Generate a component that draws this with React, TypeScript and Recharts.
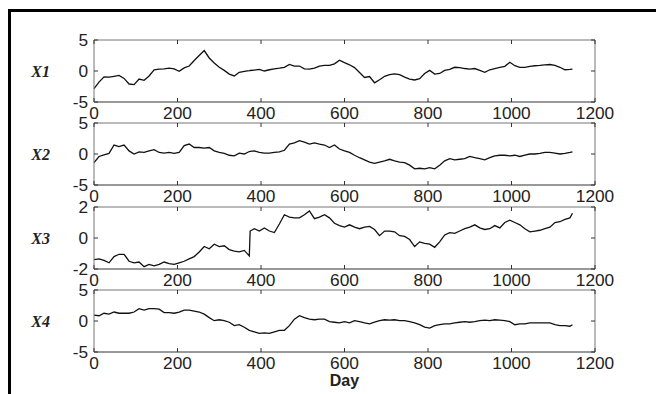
import React from 'react';
import { LineChart, Line, XAxis, YAxis, Label } from 'recharts';

const days = [
  0, 12, 24, 36, 48, 60, 72, 84, 96, 108,
  120, 132, 144, 156, 168, 180, 192, 204, 216, 228,
  240, 252, 264, 276, 288, 300, 312, 324, 336, 348,
  360, 372, 374,
  384, 396, 408, 420, 432, 444, 456, 468,
  480, 492, 504, 516, 528, 540, 552, 564, 576, 588,
  600, 612, 624, 636, 648, 660, 672, 684, 696, 708,
  720, 732, 744, 756, 768, 780, 792, 804, 816, 828,
  840, 852, 864, 876, 888, 900, 912, 924, 936, 948,
  960, 972, 984, 996, 1008, 1020, 1032, 1044, 1056, 1068,
  1080, 1092, 1104, 1116, 1128, 1140,
  1146,
];

const x1Values = [
  -2.85, -1.8, -0.95, -1.0, -0.85, -0.7, -1.2, -2.1, -2.2, -1.3,
  -1.5, -0.8, 0.2, 0.3, 0.35, 0.45, 0.35, -0.05, 0.5, 0.8,
  1.7, 2.5, 3.3, 2.1, 1.3, 0.6, 0.1, -0.5, -0.8, -0.2,
  -0.05, 0.05, 0.08,
  0.15, 0.25, 0.0, 0.2, 0.35, 0.45, 0.6, 1.05,
  0.8, 0.8, 0.35, 0.3, 0.45, 0.8, 0.9, 0.9, 1.15, 1.75,
  1.35, 1.0, 0.55, -0.25, -1.05, -0.9, -1.9, -1.4, -0.85, -0.6,
  -0.45, -0.6, -1.0, -1.3, -1.45, -1.25, -0.4, 0.1, -0.5, -0.4,
  0.1, 0.25, 0.6, 0.55, 0.4, 0.3, 0.4, 0.1, -0.2, 0.2,
  0.4, 0.6, 0.75, 1.4, 0.85, 0.6, 0.6, 0.75, 0.85, 0.9,
  1.0, 1.05, 0.9, 0.6, 0.2, 0.25,
  0.3,
];

const x2Values = [
  -1.4, -0.4, -0.15, 0.1, 1.45, 1.2, 1.45, 0.5, 0.0, 0.35,
  0.25, 0.5, 0.7, 0.25, 0.15, 0.25, 0.1, 0.25, 1.35, 1.6,
  1.05, 1.05, 0.95, 1.05, 0.5, 0.25, 0.1, -0.2, -0.3, 0.15,
  0.0, 0.4, 0.42,
  0.5, 0.25, 0.15, 0.15, 0.25, 0.35, 0.6, 1.6,
  1.8, 2.15, 1.9, 1.6, 1.8, 1.6, 1.45, 1.05, 1.45, 0.8,
  0.5, 0.25, -0.2, -0.6, -0.95, -1.3, -1.5, -1.3, -1.1, -0.85,
  -1.1, -1.3, -1.4, -1.8, -2.4, -2.3, -2.4, -2.2, -2.4, -1.8,
  -1.1, -0.75, -0.95, -0.85, -0.75, -0.4, -0.6, -0.75, -0.95, -0.6,
  -0.3, -0.2, -0.2, -0.3, -0.2, -0.4, -0.2, 0.0, 0.0, 0.1,
  0.25, 0.25, 0.15, 0.0, 0.1, 0.25,
  0.35,
];

const x3Values = [
  -1.4, -1.35, -1.45, -1.6, -1.2, -1.05, -1.05, -1.5, -1.6, -1.55,
  -1.85, -1.7, -1.8, -1.7, -1.55, -1.65, -1.7, -1.6, -1.5, -1.35,
  -1.2, -0.9, -0.55, -0.7, -0.4, -0.55, -0.5, -0.75, -0.85, -0.9,
  -0.8, -1.15, 0.45,
  0.6, 0.45, 0.65, 0.45, 0.35, 0.9, 1.5, 1.35,
  1.3, 1.3, 1.5, 1.75, 1.25, 1.35, 1.5, 1.3, 0.95, 0.8,
  0.7, 0.85, 0.7, 0.6, 0.7, 0.75, 0.55, 0.15, 0.45, 0.45,
  0.4, 0.15, 0.1, -0.1, -0.55, -0.25, -0.35, -0.4, -0.6, -0.25,
  0.2, 0.35, 0.3, 0.45, 0.6, 0.7, 0.85, 0.65, 0.55, 0.6,
  0.8, 0.65, 1.0, 1.15, 1.0, 0.85, 0.6, 0.4, 0.45, 0.5,
  0.6, 0.7, 1.0, 1.05, 1.2, 1.3,
  1.6,
];

const x4Values = [
  0.95, 0.85, 1.25, 1.1, 1.45, 1.25, 1.25, 1.25, 1.45, 2.0,
  1.75, 2.0, 2.0, 1.9, 1.35, 1.35, 1.25, 1.45, 1.75, 1.75,
  1.6, 1.45, 1.1, 0.55, 0.05, 0.2, 0.05, -0.2, -0.75, -0.6,
  -1.0, -1.5, -1.55,
  -1.75, -2.0, -1.9, -2.0, -1.75, -1.5, -1.5, -0.75,
  0.3, 0.85, 0.55, 0.3, 0.2, 0.3, 0.3, -0.1, -0.2, -0.3,
  -0.1, -0.3, 0.05, -0.1, -0.3, -0.45, -0.2, 0.05, 0.2, 0.15,
  0.2, 0.05, 0.05, -0.1, -0.3, -0.6, -1.0, -1.15, -0.75, -0.6,
  -0.45, -0.45, -0.3, -0.2, -0.1, -0.2, -0.1, 0.05, 0.15, 0.05,
  0.2, 0.15, 0.05, -0.1, -0.6, -0.45, -0.45, -0.3, -0.3, -0.3,
  -0.3, -0.3, -0.6, -0.75, -0.75, -0.85,
  -0.6,
];

const seriesNames = ['X1', 'X2', 'X3', 'X4'];
const seriesValues = [x1Values, x2Values, x3Values, x4Values];
const yDomains: [number, number][] = [[-5, 5], [-5, 5], [-2, 2], [-5, 5]];
const yTicks = [[-5, 0, 5], [-5, 0, 5], [-2, 0, 2], [-5, 0, 5]];
const xTicks = [0, 200, 400, 600, 800, 1000, 1200];
const xLabel = 'Day';

// layout
const plotTops = [40, 123, 207, 290];
const PLOT_H = 62;
const TOP_M = 10;
const SANS = '"Liberation Sans", Arial, Helvetica, sans-serif';
const SERIF = '"Liberation Serif", "Times New Roman", serif';
const TXT = '#222';

const BottomTick = (props: any) => {
  const { x, y, payload } = props;
  return (
    <g>
      <line x1={x} y1={y} x2={x} y2={y - 4} stroke="#333" strokeWidth={1} />
      <text
        x={0}
        y={0}
        transform={`translate(${x},${y + 17}) scale(1.08,1)`}
        textAnchor="middle"
        fontFamily={SANS}
        fontSize={16}
        fill={TXT}
      >
        {payload.value}
      </text>
    </g>
  );
};

const TopTick = (props: any) => {
  const { x, y } = props;
  return <line x1={x} y1={y} x2={x} y2={y + 4} stroke="#333" strokeWidth={1} />;
};

const LeftTick = (props: any) => {
  const { x, y, payload } = props;
  return (
    <g>
      <line x1={x} y1={y} x2={x + 4} y2={y} stroke="#333" strokeWidth={1} />
      <text
        x={0}
        y={0}
        transform={`translate(${x - 6},${y + 5.5}) scale(1.08,1)`}
        textAnchor="end"
        fontFamily={SANS}
        fontSize={16}
        fill={TXT}
      >
        {payload.value}
      </text>
    </g>
  );
};

const RightTick = (props: any) => {
  const { x, y } = props;
  return <line x1={x} y1={y} x2={x - 4} y2={y} stroke="#333" strokeWidth={1} />;
};

function Panel({ index }: { index: number }) {
  const values = seriesValues[index];
  const data = days.map((d, i) => ({ day: d, v: values[i] }));
  const last = index === seriesValues.length - 1;
  const axisH = last ? 40 : 24;
  const height = TOP_M + PLOT_H + axisH;
  return (
    <div style={{ position: 'absolute', left: 0, top: plotTops[index] - TOP_M }}>
      <LineChart
        width={656}
        height={height}
        data={data}
        margin={{ top: TOP_M - 1, right: 60, bottom: 0, left: 64 }}
      >
        <XAxis
          dataKey="day"
          type="number"
          domain={[0, 1200]}
          ticks={xTicks}
          interval={0}
          tickLine={false}
          tickSize={0}
          tickMargin={0}
          height={axisH}
          axisLine={{ stroke: '#333', strokeWidth: 1 }}
          tick={<BottomTick />}
          label={
            last ? (
              <Label
                value={xLabel}
                position="insideBottom"
                offset={6}
                fontFamily={SANS}
                fontWeight="bold"
                fontSize={16}
                fill={TXT}
              />
            ) : undefined
          }
        />
        <XAxis
          xAxisId="top"
          orientation="top"
          dataKey="day"
          type="number"
          domain={[0, 1200]}
          ticks={xTicks}
          interval={0}
          tickLine={false}
          tickSize={0}
          tickMargin={0}
          height={1}
          axisLine={{ stroke: '#777', strokeWidth: 1 }}
          tick={<TopTick />}
        />
        <YAxis
          type="number"
          domain={yDomains[index]}
          ticks={yTicks[index]}
          interval={0}
          width={30}
          tickLine={false}
          tickSize={0}
          tickMargin={0}
          axisLine={{ stroke: '#777', strokeWidth: 1 }}
          tick={<LeftTick />}
          label={
            <Label
              value={seriesNames[index]}
              position="left"
              offset={14}
              fontFamily={SERIF}
              fontWeight="bold"
              fontStyle="italic"
              fontSize={16}
              fill={TXT}
            />
          }
        />
        <YAxis
          yAxisId="right"
          orientation="right"
          type="number"
          domain={yDomains[index]}
          ticks={yTicks[index]}
          interval={0}
          width={1}
          tickLine={false}
          tickSize={0}
          tickMargin={0}
          axisLine={{ stroke: '#777', strokeWidth: 1 }}
          tick={<RightTick />}
        />
        <Line
          dataKey="v"
          xAxisId="top"
          yAxisId="right"
          type="linear"
          stroke="none"
          strokeWidth={0}
          dot={false}
          activeDot={false}
          isAnimationActive={false}
        />
        <Line
          dataKey="v"
          type="linear"
          stroke="#111"
          strokeWidth={1.3}
          dot={false}
          isAnimationActive={false}
        />
      </LineChart>
    </div>
  );
}

export default function App() {
  return (
    <div
      style={{
        position: 'absolute',
        left: 0,
        top: 0,
        width: 656,
        height: 394,
        overflow: 'hidden',
        background: '#fff',
      }}
    >
      <div
        style={{
          position: 'absolute',
          left: 8,
          top: 9,
          width: 800,
          height: 600,
          border: '3px solid #000',
        }}
      />
      {seriesNames.map((_, i) => (
        <Panel key={i} index={i} />
      ))}
    </div>
  );
}
